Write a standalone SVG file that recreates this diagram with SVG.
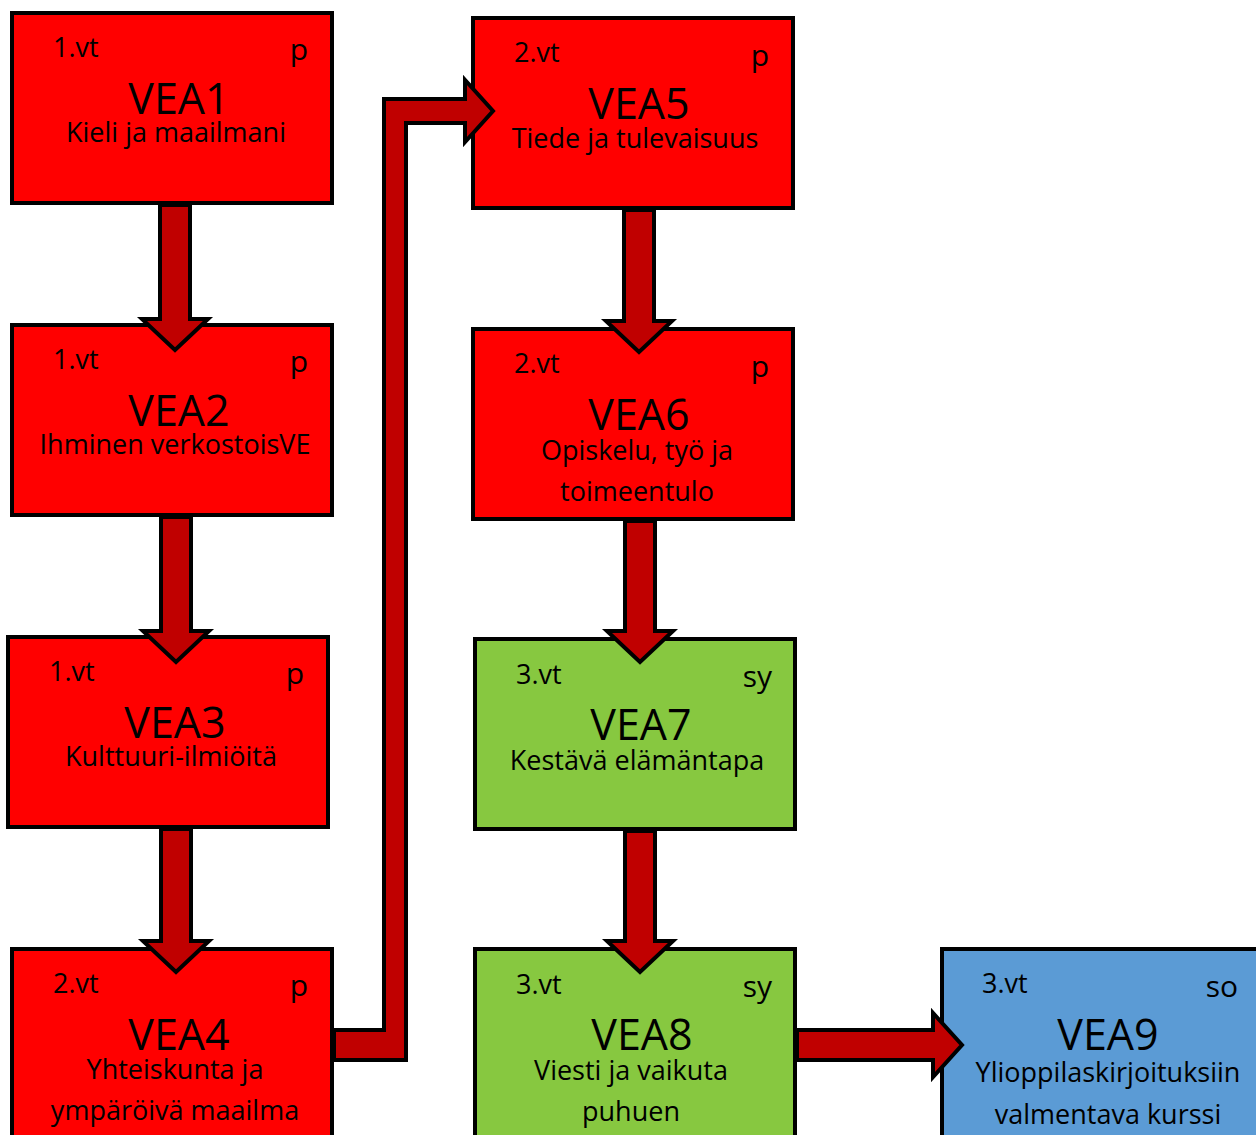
<svg xmlns="http://www.w3.org/2000/svg" width="1256" height="1135" viewBox="0 0 1256 1135">
<style>
.box{stroke:#000;stroke-width:4}
.red{fill:#FF0000}.green{fill:#87C840}.blue{fill:#5B9BD5}
.arr{fill:#C00000;stroke:#000;stroke-width:4;stroke-linejoin:miter}
text{font-family:"Open Sans","Noto Sans",sans-serif;fill:#000}
.vt{font-size:27px}
.tag{font-size:30px;text-anchor:end}
.ttl{font-size:43px;text-anchor:middle}
.sub{font-size:27px;text-anchor:middle}
</style>
<rect width="1256" height="1135" fill="#fff"/>
<g id="VEA1"><rect class="box red" x="12" y="13" width="320" height="190"/>
<text class="vt" x="53" y="57">1.vt</text><text class="tag" x="308" y="60">p</text>
<text class="ttl" x="179" y="114">VEA1</text><text class="sub" x="176" y="142">Kieli ja maailmani</text></g>
<g id="VEA2"><rect class="box red" x="12" y="325" width="320" height="190"/>
<text class="vt" x="53" y="369">1.vt</text><text class="tag" x="308" y="372">p</text>
<text class="ttl" x="179" y="426">VEA2</text><text class="sub" x="175" y="454">Ihminen verkostoisVE</text></g>
<g id="VEA3"><rect class="box red" x="8" y="637" width="320" height="190"/>
<text class="vt" x="49" y="681">1.vt</text><text class="tag" x="304" y="684">p</text>
<text class="ttl" x="175" y="738">VEA3</text><text class="sub" x="171" y="766">Kulttuuri-ilmiöitä</text></g>
<g id="VEA4"><rect class="box red" x="12" y="949" width="320" height="200"/>
<text class="vt" x="53" y="993">2.vt</text><text class="tag" x="308" y="996">p</text>
<text class="ttl" x="179" y="1050">VEA4</text><text class="sub" x="175" y="1079">Yhteiskunta ja</text><text class="sub" x="175" y="1120">ympäröivä maailma</text></g>
<g id="VEA5"><rect class="box red" x="473" y="18" width="320" height="190"/>
<text class="vt" x="514" y="62">2.vt</text><text class="tag" x="769" y="66">p</text>
<text class="ttl" x="639" y="119">VEA5</text><text class="sub" x="635" y="148">Tiede ja tulevaisuus</text></g>
<g id="VEA6"><rect class="box red" x="473" y="329" width="320" height="190"/>
<text class="vt" x="514" y="373">2.vt</text><text class="tag" x="769" y="377">p</text>
<text class="ttl" x="639" y="430">VEA6</text><text class="sub" x="637" y="460">Opiskelu, työ ja</text><text class="sub" x="637" y="501">toimeentulo</text></g>
<g id="VEA7"><rect class="box green" x="475" y="639" width="320" height="190"/>
<text class="vt" x="516" y="684">3.vt</text><text class="tag" x="772" y="687">sy</text>
<text class="ttl" x="641" y="740">VEA7</text><text class="sub" x="637" y="770">Kestävä elämäntapa</text></g>
<g id="VEA8"><rect class="box green" x="475" y="949" width="320" height="200"/>
<text class="vt" x="516" y="994">3.vt</text><text class="tag" x="772" y="997">sy</text>
<text class="ttl" x="642" y="1050">VEA8</text><text class="sub" x="631" y="1080">Viesti ja vaikuta</text><text class="sub" x="631" y="1121">puhuen</text></g>
<g id="VEA9"><rect class="box blue" x="942" y="949" width="330" height="200"/>
<text class="vt" x="982" y="993">3.vt</text><text class="tag" x="1238" y="997">so</text>
<text class="ttl" x="1108" y="1050">VEA9</text><text class="sub" x="1108" y="1082">Ylioppilaskirjoituksiin</text><text class="sub" x="1108" y="1124">valmentava kurssi</text></g>
<g id="connectors">
<polygon class="arr" points="160,205 190,205 190,319 208,319 175,350 142,319 160,319"/>
<polygon class="arr" points="161,517 191,517 191,631 209,631 176,662 143,631 161,631"/>
<polygon class="arr" points="161,829 191,829 191,941 209,941 176,972 143,941 161,941"/>
<polygon class="arr" points="624,210 654,210 654,321 672,321 639,352 606,321 624,321"/>
<polygon class="arr" points="625,521 655,521 655,631 673,631 640,662 607,631 625,631"/>
<polygon class="arr" points="625,831 655,831 655,941 673,941 640,972 607,941 625,941"/>
<polygon class="arr" points="334,1030 384,1030 384,99 465,99 465,80 493,111 465,142 465,123 406,123 406,1060 334,1060"/>
<polygon class="arr" points="797,1030 933,1030 933,1013 962,1045 933,1077 933,1060 797,1060"/>
</g>
</svg>
